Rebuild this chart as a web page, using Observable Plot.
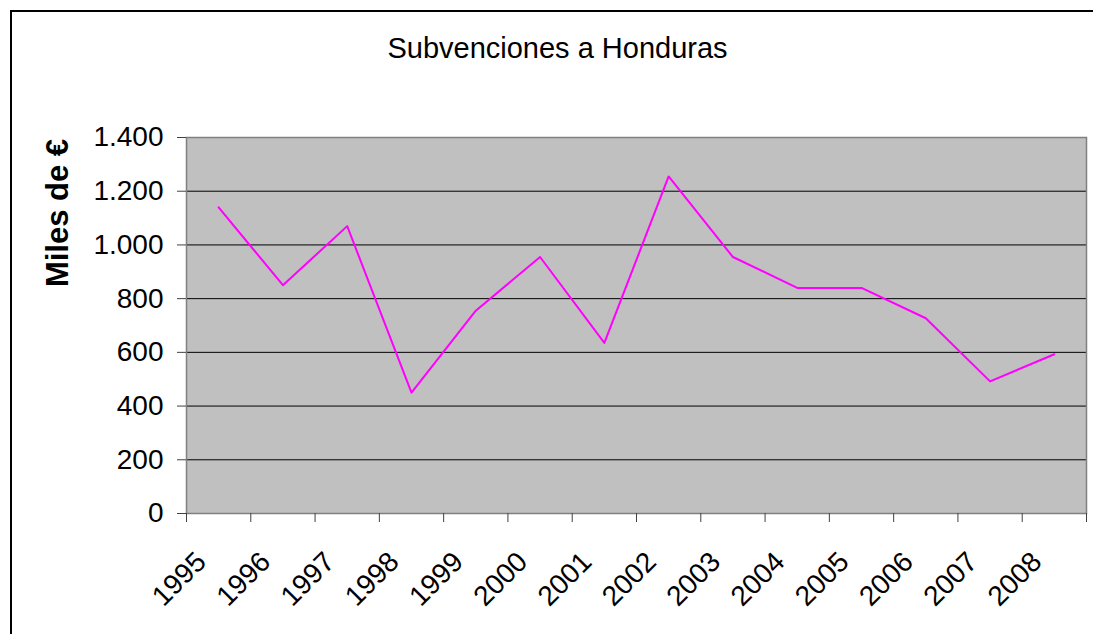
<!DOCTYPE html>
<html>
<head>
<meta charset="utf-8">
<script src="https://cdn.jsdelivr.net/npm/d3@7"></script>
<script src="https://cdn.jsdelivr.net/npm/@observablehq/plot@0.6"></script>
<style>
  html, body { margin: 0; padding: 0; background: #fff; overflow: hidden; }
  #wrap { position: relative; width: 1093px; height: 634px; overflow: hidden; font-family: "Liberation Sans", Arial, sans-serif; }
  #title { position: relative; width: 1115px; height: 100px; box-sizing: border-box; padding-top: 34px; text-align: center; font-size: 29px; line-height: 29px; color: #000; }
  #chart svg { display: block; }
  .edge { position: absolute; background: #000; pointer-events: none; }
  #edgeTop { left: 10px; top: 10px; width: 1083px; height: 2px; }
  #edgeLeft { left: 10px; top: 10px; width: 2px; height: 624px; }
</style>
</head>
<body>
<div id="wrap">
  <div id="title">Subvenciones a Honduras</div>
  <div id="chart"></div>
  <div class="edge" id="edgeTop"></div>
  <div class="edge" id="edgeLeft"></div>
</div>
<script>
const years = [1995, 1996, 1997, 1998, 1999, 2000, 2001, 2002, 2003, 2004, 2005, 2006, 2007, 2008];
const values = [1140, 850, 1070, 450, 755, 955, 635, 1255, 955, 840, 840, 727, 492, 593];
const yTicks = [0, 200, 400, 600, 800, 1000, 1200, 1400];
const gridValues = [200, 400, 600, 800, 1000, 1200];
const yLabel = "Miles de €";

const data = years.map((year, i) => ({year, value: values[i]}));
const boundaries = d3.range(years[0], years[years.length - 1] + 2);
const fmt = d => d3.format(",")(d).replace(/,/g, ".");

const chart = Plot.plot({
  width: 1093,
  height: 534,
  marginTop: 37,
  marginBottom: 121,
  marginLeft: 186,
  marginRight: 7,
  style: {background: "transparent", fontFamily: "'Liberation Sans', Arial, sans-serif", overflow: "visible"},
  x: {type: "linear", domain: [boundaries[0], boundaries[boundaries.length - 1]], axis: null},
  y: {domain: [0, 1400], axis: null},
  marks: [
    Plot.frame({fill: "#c0c0c0", stroke: null}),
    Plot.ruleY(gridValues, {stroke: "#000", strokeWidth: 1}),
    Plot.frame({stroke: "#808080", strokeWidth: 1.5}),
    Plot.axisY({ticks: yTicks, tickSize: 9, tickPadding: 14, tickFormat: fmt, fontSize: 28, stroke: "#404040", fill: "#000", label: null}),
    Plot.axisX({ticks: boundaries, tickSize: 9, tickFormat: () => "", stroke: "#404040", label: null}),
    Plot.text(years, {x: d => d + 0.5, text: d => String(d), frameAnchor: "bottom", rotate: -45, textAnchor: "end", lineAnchor: "bottom", dx: -11, dy: 50, fontSize: 28, fill: "#000"}),
    Plot.text([yLabel], {text: d => d, frameAnchor: "top-left", rotate: -90, textAnchor: "middle", lineAnchor: "middle", dx: -128, dy: 75.5, fontSize: 31, fontWeight: "bold", fill: "#000"}),
    Plot.line(data, {x: d => d.year + 0.5, y: "value", stroke: "#ff00ff", strokeWidth: 2})
  ]
});
document.getElementById("chart").appendChild(chart);
</script>
</body>
</html>
